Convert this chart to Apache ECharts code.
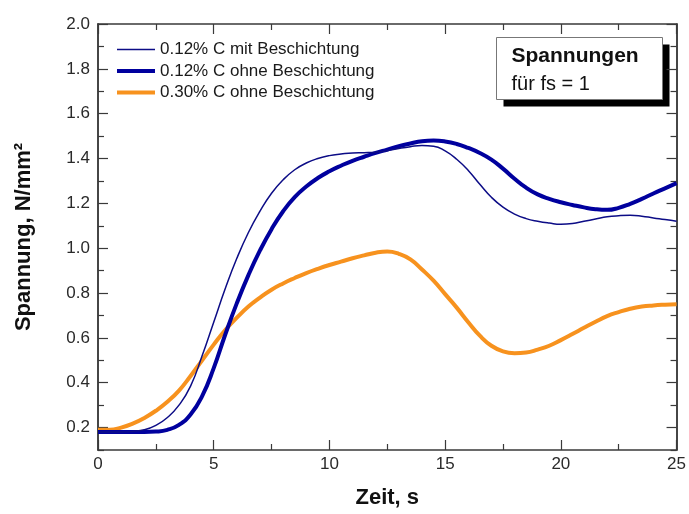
<!DOCTYPE html>
<html>
<head>
<meta charset="utf-8">
<script src="https://cdn.jsdelivr.net/npm/echarts@6/dist/echarts.min.js"></script>
<style>
  html, body { margin: 0; padding: 0; background: #fff; }
  #chart { width: 689px; height: 514px; }
</style>
</head>
<body>
<div id="chart"></div>
<script>
// Zeit in s
const zeit = [0, 0.5, 1, 1.5, 2, 2.5, 3, 3.5, 4, 4.5, 5, 5.5, 6, 6.5, 7, 7.5, 8, 8.5, 9, 9.5, 10, 10.5, 11, 11.5, 12, 12.5, 13, 13.5, 14, 14.5, 15, 15.5, 16, 16.5, 17, 17.5, 18, 18.5, 19, 19.5, 20, 20.5, 21, 21.5, 22, 22.5, 23, 23.5, 24, 24.5, 25];

// Spannung in N/mm²
const c012Mit = [0.18, 0.18, 0.18, 0.183, 0.19, 0.21, 0.245, 0.30, 0.385, 0.52, 0.67, 0.82, 0.955, 1.07, 1.165, 1.245, 1.305, 1.35, 1.38, 1.40, 1.413, 1.42, 1.425, 1.426, 1.428, 1.435, 1.445, 1.453, 1.458, 1.455, 1.434, 1.397, 1.347, 1.285, 1.227, 1.183, 1.152, 1.132, 1.12, 1.112, 1.107, 1.11, 1.12, 1.13, 1.14, 1.145, 1.147, 1.143, 1.135, 1.128, 1.12];
const c012Ohne = [0.18, 0.18, 0.18, 0.18, 0.18, 0.182, 0.19, 0.212, 0.258, 0.34, 0.465, 0.615, 0.755, 0.88, 0.99, 1.085, 1.165, 1.228, 1.275, 1.313, 1.343, 1.368, 1.39, 1.408, 1.425, 1.44, 1.455, 1.467, 1.477, 1.48, 1.476, 1.465, 1.447, 1.425, 1.395, 1.355, 1.31, 1.27, 1.24, 1.22, 1.205, 1.193, 1.182, 1.174, 1.171, 1.18, 1.198, 1.22, 1.244, 1.267, 1.29];
const c030Ohne = [0.19, 0.19, 0.20, 0.218, 0.243, 0.275, 0.315, 0.365, 0.43, 0.50, 0.57, 0.635, 0.69, 0.74, 0.78, 0.815, 0.843, 0.867, 0.889, 0.908, 0.925, 0.94, 0.955, 0.968, 0.98, 0.985, 0.975, 0.95, 0.905, 0.855, 0.795, 0.735, 0.67, 0.61, 0.565, 0.54, 0.532, 0.535, 0.548, 0.565, 0.59, 0.617, 0.645, 0.672, 0.697, 0.715, 0.73, 0.74, 0.745, 0.748, 0.75];

const seriesNames = ['0.12% C mit Beschichtung', '0.12% C ohne Beschichtung', '0.30% C ohne Beschichtung'];

// Achsenbeschriftung
const yMajorTicks = [0.2, 0.4, 0.6, 0.8, 1.0, 1.2, 1.4, 1.6, 1.8, 2.0];
const yMinorTicks = [0.1, 0.3, 0.5, 0.7, 0.9, 1.1, 1.3, 1.5, 1.7, 1.9];

const pairs = ys => zeit.map((t, i) => [t, ys[i]]);

const font = 'Liberation Sans, Arial, sans-serif';
const axisColor = '#3a3a3a';
const colors = ['#0c0c86', '#00009e', '#f7921e'];
const widths = [1.5, 4, 4];

const tickStyle = { color: axisColor, width: 1.2 };
const yBase = {
  type: 'value', min: 0.1, max: 2.0,
  splitLine: { show: false },
  axisLine: { show: true, lineStyle: { color: axisColor, width: 1.5 } }
};
const xBase = {
  type: 'value', min: 0, max: 25, interval: 5,
  axisLine: { show: true, onZero: false, lineStyle: { color: axisColor, width: 1.5 } },
  axisTick: { show: true, inside: true, length: 10, lineStyle: tickStyle },
  minorTick: { show: true, splitNumber: 2, length: 6, lineStyle: tickStyle },
  splitLine: { show: false }, minorSplitLine: { show: false }
};

const chart = echarts.init(document.getElementById('chart'), null, { renderer: 'canvas' });
chart.setOption({
  backgroundColor: '#fff',
  animation: false,
  textStyle: { fontFamily: font },
  grid: { left: 98, right: 8, top: 24, bottom: 62 },
  legend: {
    orient: 'vertical',
    left: 110, top: 36,
    itemWidth: 38, itemHeight: 14, itemGap: 4.5,
    itemStyle: { opacity: 0 },
    textStyle: { fontFamily: font, fontSize: 17, color: '#1a1a1a' },
    data: seriesNames.map((n, i) => ({ name: n, lineStyle: { width: widths[i], color: colors[i] } }))
  },
  xAxis: [
    Object.assign({}, xBase, {
      name: 'Zeit, s', nameLocation: 'middle', nameGap: 37,
      nameTextStyle: { fontFamily: font, fontSize: 22, fontWeight: 'bold', color: '#111' },
      axisLabel: { fontFamily: font, fontSize: 17, color: '#2a2a2a', margin: 6 }
    }),
    Object.assign({}, xBase, { position: 'top', axisLabel: { show: false } })
  ],
  yAxis: [
    Object.assign({}, yBase, {
      position: 'left',
      name: 'Spannung, N/mm²', nameLocation: 'middle', nameGap: 63, nameRotate: 90,
      nameTextStyle: { fontFamily: font, fontSize: 22, fontWeight: 'bold', color: '#111' },
      axisTick: { show: true, inside: true, length: 10, customValues: yMajorTicks, lineStyle: tickStyle },
      axisLabel: { fontFamily: font, fontSize: 17, color: '#2a2a2a', margin: 8, customValues: yMajorTicks,
        formatter: v => v.toFixed(1) }
    }),
    Object.assign({}, yBase, {
      position: 'left',
      axisTick: { show: true, inside: true, length: 6, customValues: yMinorTicks, lineStyle: tickStyle },
      axisLabel: { show: false }
    }),
    Object.assign({}, yBase, {
      position: 'right',
      axisTick: { show: true, inside: true, length: 10, customValues: yMajorTicks, lineStyle: tickStyle },
      axisLabel: { show: false }
    }),
    Object.assign({}, yBase, {
      position: 'right',
      axisTick: { show: true, inside: true, length: 6, customValues: yMinorTicks, lineStyle: tickStyle },
      axisLabel: { show: false }
    })
  ],
  series: [c012Mit, c012Ohne, c030Ohne].map((ys, i) => ({
    name: seriesNames[i], type: 'line', data: pairs(ys),
    showSymbol: false, symbol: 'none', smooth: 0.5,
    lineStyle: { color: colors[i], width: widths[i] }, itemStyle: { color: colors[i] },
    z: 4 - i
  })),
  graphic: [
    {
      type: 'group', left: 496, top: 37,
      children: [
        { type: 'rect', shape: { x: 7, y: 7, width: 166, height: 62 }, style: { fill: '#000' } },
        { type: 'rect', shape: { x: 0, y: 0, width: 166, height: 62 }, style: { fill: '#fff', stroke: '#777', lineWidth: 1 } },
        { type: 'text', x: 15, y: 19, style: { text: 'Spannungen', font: 'bold 21px ' + font, fill: '#111', verticalAlign: 'middle' } },
        { type: 'text', x: 15, y: 47, style: { text: 'für fs = 1', font: '20px ' + font, fill: '#111', verticalAlign: 'middle' } }
      ]
    }
  ]
});
</script>
</body>
</html>
